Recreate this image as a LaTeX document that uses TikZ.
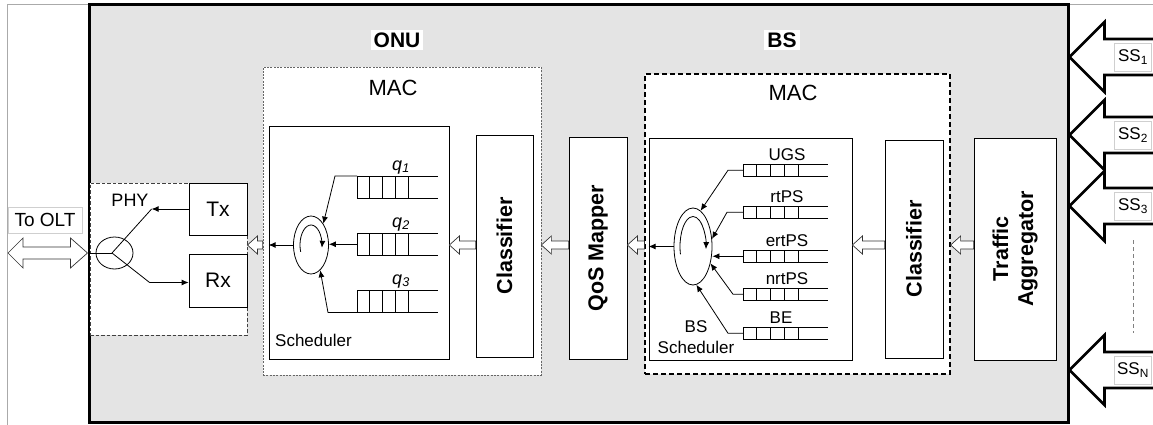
\documentclass[tikz,border=0pt]{standalone}
\usepackage{fontspec}
\setmainfont{Liberation Sans}
\usetikzlibrary{arrows.meta,shapes.geometric,calc}

\definecolor{panel}{HTML}{E4E4E4}
\definecolor{framegray}{HTML}{AAAAAA}
\definecolor{tagline}{HTML}{CFCFCF}

\newcommand\fsz[2]{\fontsize{#1}{#2}\selectfont}

% queue of four cells with open tail lines; defines #1-nw, #1-w, #1-sw
\newcommand\queue[6]{%
  \coordinate (#1-nw) at (#2,#3);
  \coordinate (#1-sw) at (#2,#3+#4);
  \coordinate (#1-w)  at (#2,#3+#4/2);
  \foreach \k in {0,...,3}
    \draw[qline] ($(#1-nw)+(\k*#5,0)$) rectangle ++(#5,#4);
  \draw[qline] (#1-nw) -- ++(#6,0) (#1-sw) -- ++(#6,0);
}

% hollow block arrow pointing left: tail, tip, shaft half, head half, head length
\newcommand\hollow[5]{%
  \draw[hollowarr] let \p1=(#1), \p2=(#2) in
    (\x1,\y1+#3) -- (\x2+#5,\y1+#3) -- (\x2+#5,\y1+#4) -- (\x2,\y1)
    -- (\x2+#5,\y1-#4) -- (\x2+#5,\y1-#3) -- (\x1,\y1-#3) -- cycle;
}

% large subscriber arrow: label row, tip on the system box
\newcommand\ssarrow[1]{%
  \draw[ssarr] let \p1=(sys.east |- #1), \p2=(edge) in
    (\x2,\y1+18pt) -- (\x1+35pt,\y1+18pt) -- (\x1+35pt,\y1+35pt) -- (\x1,\y1)
    -- (\x1+35pt,\y1-35pt) -- (\x1+35pt,\y1-18pt) -- (\x2,\y1-18pt);
}

\begin{document}
\begin{tikzpicture}[x=1pt,y=-1pt,
  every node/.style={inner sep=0pt},
  box/.style={draw, fill=white, line width=0.8pt, rectangle},
  onudash/.style={draw=black!60, fill=white, line width=0.7pt, dash pattern=on 2pt off 1.3pt, rectangle},
  phydash/.style={draw=black!75, fill=white, line width=0.9pt, dash pattern=on 3.5pt off 2pt, rectangle},
  bsdash/.style={draw=black, fill=white, line width=1.2pt, dash pattern=on 5pt off 3pt, rectangle},
  qline/.style={line width=0.8pt},
  plain/.style={line width=0.8pt},
  arr/.style={line width=0.8pt, -{Latex[length=7pt,width=6pt]}},
  hollowarr/.style={draw=black!80, fill=white, line width=0.7pt, line join=miter},
  ssarr/.style={draw=black, fill=white, line width=2.6pt, line join=miter},
  tag/.style={draw=tagline, fill=white, line width=0.6pt, rectangle},
  big/.style={font=\fsz{22}{26}},
  bigbold/.style={font=\bfseries\fsz{21.5}{25}},
  mid/.style={font=\fsz{18}{22}},
  small/.style={font=\fsz{17}{21}},
  head/.style={font=\bfseries\fsz{21}{25}, fill=white, inner sep=3pt},
]
\useasboundingbox (0,0) rectangle (1153,425);
\coordinate (edge) at (1153,0);
\coordinate (row) at (0,245);

% outer frame
\draw[framegray, line width=0.8pt] (7,425) -- (7,4) -- (1153,4);

% system enclosure
\node[draw, fill=panel, line width=3pt, rectangle, minimum width=979pt, minimum height=417pt] (sys) at (578.5,213.5) {};

\node[head] (onu) at (397,40) {ONU};
\node[head] (bs) at (782,40) {BS};

% ---------------- PHY ----------------
\node[phydash, minimum width=157pt, minimum height=152pt] (phy) at (168.5,259) {};
\node[mid] (phylbl) at (130,200) {PHY};
\node[box, minimum width=58pt, minimum height=52pt, font=\fsz{21}{25}] (tx) at (218,209) {Tx};
\node[box, minimum width=58pt, minimum height=53pt, font=\fsz{21}{25}] (rx) at (218,280.5) {Rx};
\node[ellipse, draw, line width=0.8pt, minimum width=37pt, minimum height=32pt] (ellP) at (114.5,253) {};
\coordinate (fork) at (112,253);
\path (tx.west) ++(-37,0) coordinate (txb);
\path (rx.west) ++(-39,2) coordinate (rxb);
\draw[plain] (fork -| sys.west) -- (fork);
\draw[arr] (tx.west) -- (txb);
\draw[plain] (txb) -- (fork);
\draw[arr] (fork) -- (rxb) -- (rxb -| rx.west);

% link to the OLT
\coordinate (olt) at (8,253);
\draw[hollowarr] let \p1=(olt), \p2=(fork -| sys.west) in
  (\x1,\y1) -- (\x1+15pt,\y1+15pt) -- (\x1+15pt,\y1+6pt) -- (\x2-17pt,\y1+6pt)
  -- (\x2-17pt,\y1+15pt) -- (\x2,\y1) -- (\x2-17pt,\y1-15pt) -- (\x2-17pt,\y1-6pt)
  -- (\x1+15pt,\y1-6pt) -- (\x1+15pt,\y1-15pt) -- cycle;
\node[tag, minimum width=74pt, minimum height=26pt, font=\fsz{19}{23}] (oltlbl) at (45,220) {To OLT};

% ---------------- ONU MAC ----------------
\node[onudash, minimum width=278pt, minimum height=308pt] (macO) at (402,221) {};
\node[big] (macOlbl) at (393,88) {MAC};
\node[box, minimum width=180pt, minimum height=233pt] (schO) at (359,242.5) {};
\node[box, minimum width=57pt, minimum height=222pt, bigbold] (clsO) at (504.5,246) {\rotatebox{90}{Classifier}};
\node[small, anchor=base west] (schOlbl) at (275,346) {Scheduler};

\queue{q1}{357}{176}{22.5}{12.75}{81}
\queue{q2}{357}{233}{22.5}{12.75}{81}
\queue{q3}{357}{290}{22.5}{12.75}{81}
\node[mid, anchor=base] (q1l) at (401,170) {\textit{q}\textsubscript{\textit{1}}};
\node[mid, anchor=base] (q2l) at (401,227) {\textit{q}\textsubscript{\textit{2}}};
\node[mid, anchor=base] (q3l) at (401,284) {\textit{q}\textsubscript{\textit{3}}};

\node[ellipse, draw, line width=0.8pt, minimum width=35pt, minimum height=58pt] (ellO) at (311,245) {};
\begin{scope}[shift={(ellO.center)}, yscale=-1]
  \draw[arr] (200:11 and 20) arc[start angle=200, end angle=-8, x radius=11, y radius=20];
\end{scope}
\draw[arr] (q1-nw) -- ++(-22,0) -- (ellO.60);
\draw[arr] (q2-w) -- (q2-w -| ellO.east);
\draw[arr] (q3-sw) -- ++(-29,0) -- (ellO.-70);
\draw[arr] (ellO.west) -- (ellO.west -| schO.west);

% ---------------- QoS mapper ----------------
\node[box, minimum width=58pt, minimum height=222pt, bigbold] (qos) at (598,248) {\rotatebox{90}{QoS Mapper}};

% ---------------- BS MAC ----------------
\node[bsdash, minimum width=305pt, minimum height=300pt] (macB) at (797.5,224) {};
\node[big] (macBlbl) at (793,93) {MAC};
\node[box, minimum width=203pt, minimum height=222pt] (schB) at (750.5,249) {};
\node[box, minimum width=58pt, minimum height=218pt, bigbold] (clsB) at (914,249) {\rotatebox{90}{Classifier}};
\node[small, align=center] (schBlbl) at (696,337) {BS\\Scheduler};

\queue{ugs}{743}{164}{12.5}{13.75}{85}
\queue{rtps}{743}{206}{12.5}{13.75}{85}
\queue{ertps}{743}{250}{12.5}{13.75}{85}
\queue{nrtps}{743}{288}{12.5}{13.75}{85}
\queue{be}{743}{327}{12.5}{13.75}{85}
\node[small, anchor=base] (ugsl) at (787,160) {UGS};
\node[small, anchor=base] (rtpsl) at (787,202) {rtPS};
\node[small, anchor=base] (ertpsl) at (787,246) {ertPS};
\node[small, anchor=base] (nrtpsl) at (787,284) {nrtPS};
\node[small, anchor=base] (bel) at (781,323) {BE};

\node[ellipse, draw, line width=0.8pt, minimum width=38pt, minimum height=77pt] (ellB) at (693,246.5) {};
\begin{scope}[shift={(ellB.center)}, yscale=-1]
  \draw[arr] (195:13 and 30) arc[start angle=195, end angle=-5, x radius=13, y radius=30];
\end{scope}
\draw[arr] (ugs-w) -- ++(-15,0) -- (ellB.78);
\draw[arr] (rtps-w) -- ++(-16,0) -- (ellB.22);
\draw[arr] (ertps-w) -- (ertps-w -| ellB.east);
\draw[arr] (nrtps-w) -- ++(-10,0) -- (ellB.-44);
\draw[arr] (be-w) -- ++(-15,0) -- (ellB.-85);
\draw[arr] (ellB.west) -- (ellB.west -| schB.west);

% ---------------- traffic aggregator ----------------
\node[box, minimum width=82pt, minimum height=222pt] (agg) at (1015,249) {};
\node[bigbold, rotate=90, align=center] (aggtxt) at (agg.center) {Traffic\\Aggregator};

% hollow data-flow arrows
\hollow{macO.west |- row}{phy.east |- row}{4pt}{9pt}{10pt}
\hollow{clsO.west |- row}{schO.east |- row}{4pt}{9pt}{10pt}
\hollow{qos.west |- row}{macO.east |- row}{4pt}{9pt}{10pt}
\hollow{macB.west |- row}{qos.east |- row}{4pt}{9pt}{10pt}
\hollow{clsB.west |- row}{schB.east |- row}{4pt}{9pt}{10pt}
\hollow{agg.west |- row}{macB.east |- row}{4pt}{9pt}{10pt}

% ---------------- subscriber stations ----------------
\coordinate (r1) at (1133,57);
\coordinate (r2) at (1133,135);
\coordinate (r3) at (1133,206);
\coordinate (rN) at (1133,370);
\ssarrow{r1}
\ssarrow{r2}
\ssarrow{r3}
\ssarrow{rN}
\node[tag, minimum width=37pt, minimum height=28pt, font=\fsz{17}{20}] (ss1) at (r1) {SS\textsubscript{1}};
\node[tag, minimum width=37pt, minimum height=28pt, font=\fsz{17}{20}] (ss2) at (r2) {SS\textsubscript{2}};
\node[tag, minimum width=37pt, minimum height=28pt, font=\fsz{17}{20}] (ss3) at (r3) {SS\textsubscript{3}};
\node[tag, minimum width=37pt, minimum height=28pt, font=\fsz{17}{20}] (ssN) at (rN) {SS\textsubscript{N}};
\draw[black!50, line width=0.8pt, dash pattern=on 4pt off 3pt] ($(r3)+(0,34)$) -- ($(rN)+(0,-37)$);
\end{tikzpicture}
\end{document}
